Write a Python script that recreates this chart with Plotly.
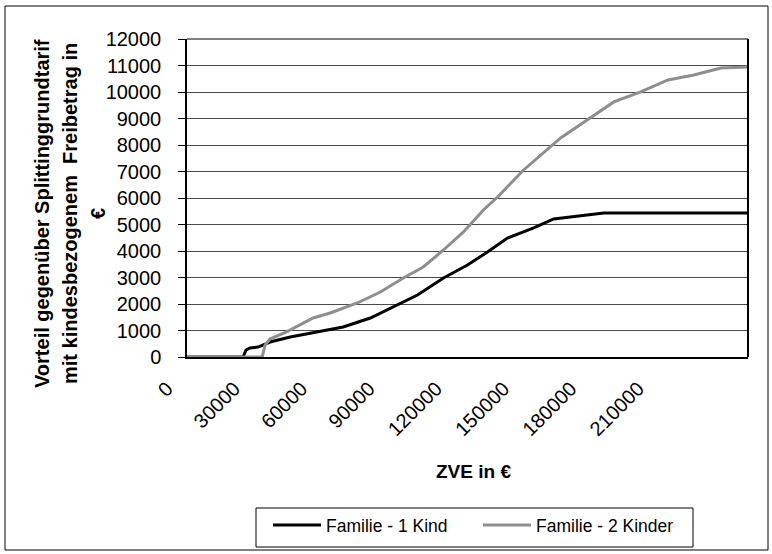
import plotly.graph_objects as go

# Data
x_kind1 = [0, 25000, 26300, 28100, 31700, 37000, 46000, 56200, 69600, 81700, 93700,
           102700, 114300, 125000, 133900, 142800, 154500, 163400, 185700, 250000]
y_kind1 = [0, 0, 264, 340, 377, 566, 755, 906, 1132, 1472, 1962,
           2340, 2982, 3472, 3963, 4491, 4869, 5208, 5435, 5435]

x_kind2 = [0, 33500, 34800, 37000, 44600, 56200, 63800, 75900, 86200, 96400, 105300,
           114300, 123200, 132100, 138400, 150000, 166500, 179900, 190200, 202200,
           214300, 225900, 237900, 250000]
y_kind2 = [0, 0, 453, 679, 960, 1472, 1661, 2038, 2453, 2982, 3397,
           4038, 4718, 5548, 6038, 7057, 8265, 9020, 9624, 10001,
           10454, 10643, 10907, 10945]

x_ticks = [0, 30000, 60000, 90000, 120000, 150000, 180000, 210000]
y_ticks = list(range(0, 12001, 1000))

series_names = ["Familie - 1 Kind", "Familie - 2 Kinder"]
y_title_lines = ["Vorteil gegenüber Splittinggrundtarif",
                 "mit kindesbezogenem  Freibetrag in",
                 "€"]
x_title = "ZVE in €"

FONT = "Liberation Sans, Arial, sans-serif"

fig = go.Figure()
fig.add_trace(go.Scatter(x=x_kind1, y=y_kind1, mode="lines", name=series_names[0],
                         line=dict(color="#000000", width=3)))
fig.add_trace(go.Scatter(x=x_kind2, y=y_kind2, mode="lines", name=series_names[1],
                         line=dict(color="#8e8e8e", width=3)))

L, R, T, B = 187, 24, 39, 197
W, H = 772, 554
pw, ph = W - L - R, H - T - B


def px2x(px):
    return (px - L) / pw


def py2y(py):
    return (H - B - py) / ph


fig.update_layout(
    width=W, height=H,
    margin=dict(l=L, r=R, t=T, b=B, autoexpand=False),
    paper_bgcolor="white", plot_bgcolor="white",
    font=dict(family=FONT, color="black", size=19),
    showlegend=True,
    legend=dict(orientation="h", x=px2x(268), y=py2y(507), xanchor="left", yanchor="top",
                borderwidth=0, bgcolor="rgba(0,0,0,0)",
                font=dict(size=17.5, family=FONT, color="black"),
                itemwidth=48, entrywidth=147, entrywidthmode="pixels"),
    xaxis=dict(range=[0, 250000], tickvals=x_ticks, ticktext=[str(v) for v in x_ticks],
               tickangle=-45, showgrid=False, zeroline=False,
               showline=True, linecolor="black", linewidth=2,
               ticks="", ticklabelstandoff=10, ticklabelshift=-20,
               tickfont=dict(size=20, family=FONT, color="black")),
    yaxis=dict(range=[0, 12000], tickvals=y_ticks, ticktext=[str(v) for v in y_ticks],
               showgrid=True, gridcolor="#4a4a4a", gridwidth=1, zeroline=False,
               showline=True, linecolor="black", linewidth=1.5,
               ticks="outside", ticklen=7, tickcolor="black", tickwidth=1,
               ticklabelstandoff=13,
               tickfont=dict(size=20, family=FONT, color="black")),
)

# plot-area border (top and right)
fig.add_shape(type="line", xref="paper", yref="paper", x0=1, x1=1, y0=0, y1=1,
              line=dict(color="black", width=2))
fig.add_shape(type="line", xref="paper", yref="paper", x0=0, x1=1, y0=1, y1=1,
              line=dict(color="black", width=1))
# outer chart border
fig.add_shape(type="rect", xref="paper", yref="paper",
              x0=px2x(5), x1=px2x(768), y0=py2y(550), y1=py2y(6),
              line=dict(color="black", width=1), fillcolor="rgba(0,0,0,0)", layer="below")
# legend box
fig.add_shape(type="rect", xref="paper", yref="paper",
              x0=px2x(256), x1=px2x(693), y0=py2y(547), y1=py2y(508),
              line=dict(color="black", width=1), fillcolor="rgba(0,0,0,0)", layer="below")

# y-axis title as three rotated lines
for px, txt in zip([42, 70, 98], y_title_lines):
    fig.add_annotation(text="<b>%s</b>" % txt, xref="paper", yref="paper",
                       x=px2x(px), y=py2y(214), xanchor="center", yanchor="middle",
                       textangle=-90, showarrow=False,
                       font=dict(size=20, family=FONT, color="black"))

# x-axis title
fig.add_annotation(text="<b>%s</b>" % x_title, xref="paper", yref="paper",
                   x=px2x(473), y=py2y(471), xanchor="center", yanchor="middle",
                   showarrow=False, font=dict(size=19, family=FONT, color="black"))

fig.write_html("out.html", config={"displayModeBar": False},
               post_script="document.body.style.margin='0';document.body.style.overflow='hidden';")
